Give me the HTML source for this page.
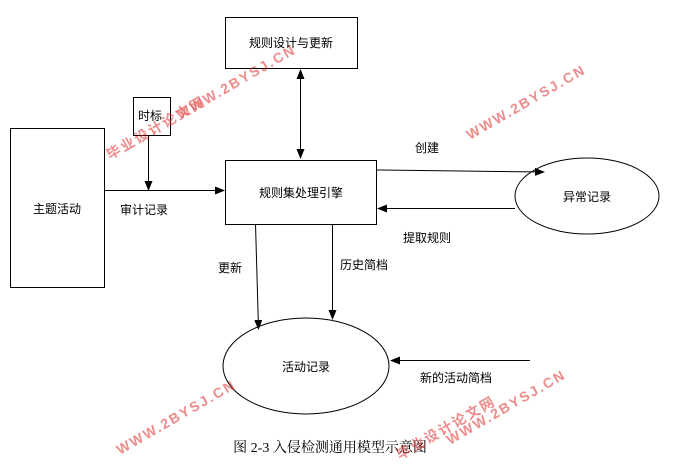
<!DOCTYPE html>
<html><head><meta charset="utf-8"><style>
html,body{margin:0;padding:0;background:#fff;}
svg{display:block;}
text{font-family:"Liberation Sans","Noto Sans CJK SC",sans-serif;font-size:12px;fill:#000;}
.wm{fill:#e03030;font-weight:bold;font-size:14px;opacity:0.75;letter-spacing:2px;}
</style></head><body>
<svg width="694" height="464" viewBox="0 0 694 464" xmlns="http://www.w3.org/2000/svg">
<defs><marker id="a" markerWidth="10" markerHeight="8" refX="9" refY="4" orient="auto" markerUnits="userSpaceOnUse"><path d="M0,0 L10,4 L0,8 z" fill="#000"/></marker>
<marker id="s" markerWidth="10" markerHeight="8" refX="1" refY="4" orient="auto" markerUnits="userSpaceOnUse"><path d="M10,0 L0,4 L10,8 z" fill="#000"/></marker></defs>
<g fill="none" stroke="#000" stroke-width="1">
<rect x="225.5" y="17.5" width="132" height="51"/>
<rect x="10.5" y="128.5" width="94" height="159"/>
<rect x="133.5" y="97.5" width="37" height="38"/>
<rect x="225.5" y="160.5" width="151" height="64"/>
<ellipse cx="587" cy="196" rx="72" ry="38"/>
<ellipse cx="306" cy="366" rx="83" ry="48"/>
<line x1="300.5" y1="70" x2="300.5" y2="158" marker-start="url(#s)" marker-end="url(#a)"/>
<line x1="148.5" y1="135" x2="148.5" y2="190" marker-end="url(#a)"/>
<line x1="104" y1="190.5" x2="224" y2="190.5" marker-end="url(#a)"/>
<line x1="377" y1="170" x2="544" y2="172" marker-end="url(#a)"/>
<line x1="515" y1="208.5" x2="378" y2="208.5" marker-end="url(#a)"/>
<line x1="255.5" y1="224" x2="258.5" y2="329" marker-end="url(#a)"/>
<line x1="332.5" y1="224" x2="332.5" y2="319" marker-end="url(#a)"/>
<line x1="530" y1="360.5" x2="391" y2="360.5" marker-end="url(#a)"/>
</g>
<text x="291" y="47" text-anchor="middle">规则设计与更新</text>
<text x="57" y="213" text-anchor="middle">主题活动</text>
<text x="138" y="120">时标</text>
<text x="301" y="197" text-anchor="middle">规则集处理引擎</text>
<text x="587" y="201" text-anchor="middle">异常记录</text>
<text x="306" y="371" text-anchor="middle">活动记录</text>
<text x="120" y="214">审计记录</text>
<text x="415" y="152">创建</text>
<text x="403" y="242">提取规则</text>
<text x="218" y="272">更新</text>
<text x="340" y="269">历史简档</text>
<text x="420" y="382">新的活动简档</text>
<text x="330" y="452" text-anchor="middle" style="font-family:'Liberation Serif','Noto Serif CJK SC',serif;font-size:14px">图 2-3 入侵检测通用模型示意图</text>
<g class="wm">
<text class="wm" transform="translate(180,120) rotate(-30)">WWW.2BYSJ.CN</text>
<text class="wm" transform="translate(110,160) rotate(-30)">毕业设计论文网</text>
<text class="wm" transform="translate(470,140) rotate(-30)">WWW.2BYSJ.CN</text>
<text class="wm" transform="translate(120,455) rotate(-30)">WWW.2BYSJ.CN</text>
<text class="wm" transform="translate(450,445) rotate(-30)">WWW.2BYSJ.CN</text>
<text class="wm" transform="translate(400,460) rotate(-30)">毕业设计论文网</text>
</g>
</svg>
</body></html>
